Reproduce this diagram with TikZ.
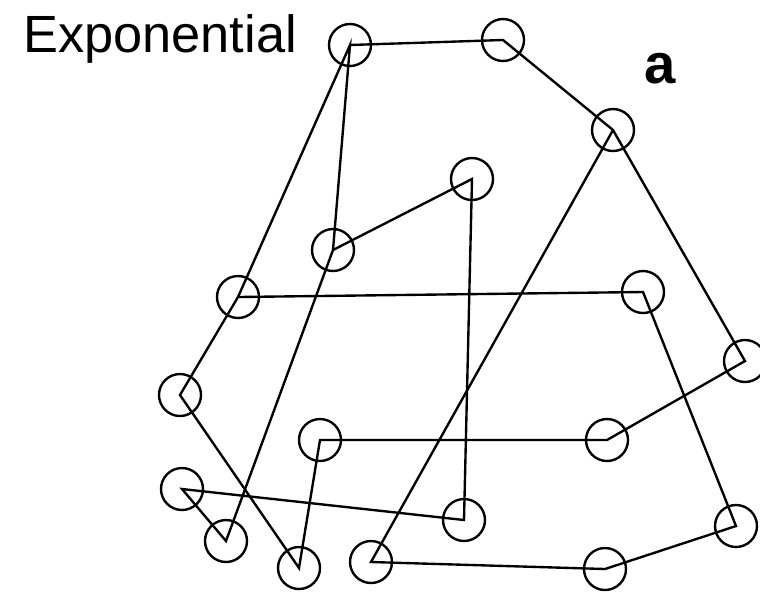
\documentclass[tikz,border=0pt]{standalone}
\usepackage{fontspec}
\setmainfont{Liberation Sans}
\usetikzlibrary{positioning}

\begin{document}
\begin{tikzpicture}[
    x=0.02cm, y=-0.02cm,
    line width=1.35pt,
    city/.style={draw, circle, minimum size=0.84cm, inner sep=0pt},
    tour/.style={line width=1.35pt},
    titletext/.style={font=\fontsize{29.8}{35}\selectfont, anchor=base west, inner sep=0pt}
]
    \useasboundingbox (0,0) rectangle (760,593);

    % Labels
    \node[titletext] (title) at (22,52) {Exponential};
    \node[titletext, font=\fontsize{32}{38}\selectfont\bfseries] (tag) at (643,83) {a};

    % Cities
    \node[city] (A) at (350,45) {};
    \node[city] (B) at (503,40) {};
    \node[city] (C) at (613,130) {};
    \node[city] (D) at (472,179) {};
    \node[city] (E) at (333,250) {};
    \node[city] (F) at (238,297) {};
    \node[city] (G) at (643,292) {};
    \node[city] (H) at (745,361) {};
    \node[city] (I) at (180,395) {};
    \node[city] (J) at (320,440) {};
    \node[city] (K) at (607,440) {};
    \node[city] (L) at (182,489) {};
    \node[city] (M) at (464,520) {};
    \node[city] (N) at (226,541) {};
    \node[city] (O) at (299,568) {};
    \node[city] (P) at (371,562) {};
    \node[city] (Q) at (605,569) {};
    \node[city] (R) at (736,526) {};

    % Links
    \draw[tour] (A.center) -- (B.center) -- (C.center) -- (H.center) -- (K.center) -- (J.center) -- (O.center) -- (I.center) -- (F.center) -- (G.center) -- (R.center) -- (Q.center) -- (P.center) -- (C.center);
    \draw[tour] (F.center) -- (A.center) -- (E.center) -- (D.center) -- (M.center) -- (L.center) -- (N.center) -- (E.center);

\end{tikzpicture}
\end{document}
